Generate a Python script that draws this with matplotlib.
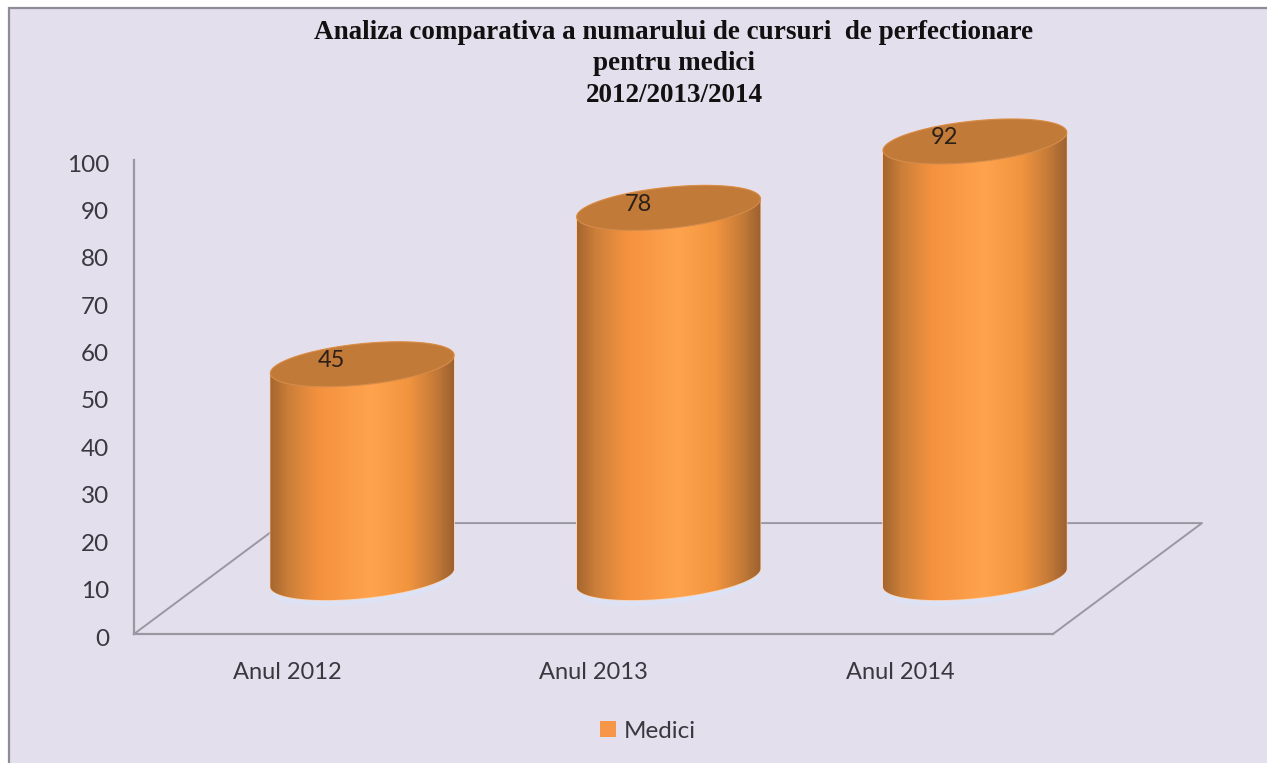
import numpy as np
import matplotlib
matplotlib.use('Agg')
import matplotlib.pyplot as plt
from matplotlib.colors import LinearSegmentedColormap
from matplotlib.patches import Patch, Polygon, Rectangle
from matplotlib.transforms import ScaledTranslation

categories = ['Anul 2012', 'Anul 2013', 'Anul 2014']
medici = [45, 78, 92]
y_ticks = [0, 10, 20, 30, 40, 50, 60, 70, 80, 90, 100]
title = 'Analiza comparativa a numarului de cursuri  de perfectionare\npentru medici\n2012/2013/2014'

W, H = 1267, 763
bg = '#E4DFEC'
line_col = '#9A97A3'
text_col = '#38383E'

fig = plt.figure(figsize=(W/100, H/100), dpi=100, facecolor='white')
fig.add_artist(Rectangle((9/W, -0.02), 1.02, 1.02 - 8/H, transform=fig.transFigure,
                         facecolor=bg, edgecolor='#8F8C98', lw=1.6, zorder=-1))

ax = fig.add_axes([134/W, 1 - 634/H, 919/W, 474/H])
ax.patch.set_visible(False)
for s in ['top', 'right']:
    ax.spines[s].set_visible(False)
for s in ['left', 'bottom']:
    ax.spines[s].set_color(line_col)
    ax.spines[s].set_linewidth(1.6)

# depth of the fake 3D floor, in data units
depth_x = 149 / (919 / 3)
depth_y = 23.4
ax.plot([-0.5, -0.5 + depth_x, 2.5 + depth_x, 2.5], [0, depth_y, depth_y, 0],
        color=line_col, lw=1.4, clip_on=False, zorder=1)

# cylinders sit in the middle of the floor
off_x = 0.245
off_y = 11.9
half_w = 0.30
ell_h = 4.35
ell_s = 1.9
body_cmap = LinearSegmentedColormap.from_list('body', [
    (0.0, '#A5662F'), (0.10, '#CB7F39'), (0.26, '#F3913F'), (0.55, '#FFA34E'),
    (0.75, '#F3953F'), (0.90, '#C57B38'), (1.0, '#9C6130')])


def ellipse_points(cx, cy, t):
    return np.column_stack([cx + half_w*np.cos(t), cy + ell_h*np.sin(t) + ell_s*np.cos(t)])


def draw_cylinder(i, value):
    cx = i + off_x
    bottom = off_y
    top = value + off_y
    # pale glow under the cylinder
    glow = ellipse_points(cx, bottom - 1.3, np.linspace(0, 2*np.pi, 160))
    ax.add_patch(Polygon(glow, closed=True, facecolor='#DDE2F5', edgecolor='none',
                         clip_on=False, zorder=2))
    lower = ellipse_points(cx, bottom, np.linspace(np.pi, 2*np.pi, 80))
    upper = ellipse_points(cx, top, np.linspace(0, np.pi, 80))
    outline = Polygon(np.vstack([lower, upper]), closed=True, facecolor='none',
                      edgecolor='#FBD3B0', lw=1.0, clip_on=False, zorder=3)
    ax.add_patch(outline)
    grad = np.linspace(0, 1, 256).reshape(1, -1)
    im = ax.imshow(grad, cmap=body_cmap, aspect='auto', zorder=3.1,
                   extent=[cx - half_w, cx + half_w, bottom - 8, top + 8])
    im.set_clip_path(Polygon(np.vstack([lower, upper]), closed=True, transform=ax.transData))
    im.set_clip_box(fig.bbox)
    cap = ellipse_points(cx, top, np.linspace(0, 2*np.pi, 160))
    ax.add_patch(Polygon(cap, closed=True, facecolor='#C27A38', edgecolor='#D58C4C',
                         lw=0.8, clip_on=False, zorder=3.2))
    ax.text(cx - 0.1, top + 0.8, str(value), ha='center', va='center', fontsize=17,
            family='Lato', color='#2A2018', zorder=4)


for i, v in enumerate(medici):
    draw_cylinder(i, v)

ax.set_xlim(-0.5, 2.5)
ax.set_ylim(0, 100)
ax.set_xticks(range(len(categories)))
ax.set_xticklabels(categories, family='Lato', fontsize=17, color=text_col)
ax.set_yticks(y_ticks)
ax.set_yticklabels([str(t) for t in y_ticks], family='Lato', fontsize=17.5, color=text_col)
ax.tick_params(axis='both', length=0)
ax.tick_params(axis='x', pad=20.5)
ax.tick_params(axis='y', pad=18)
for lab in ax.get_yticklabels():
    lab.set_transform(lab.get_transform() + ScaledTranslation(0, -3/100, fig.dpi_scale_trans))

fig.text(674/W, 1 - 20/H, title, ha='center', va='top', family='Liberation Serif',
         fontweight='bold', fontsize=19.5, color='#111111', linespacing=1.33)

fig.legend(handles=[Patch(facecolor='#F79646', edgecolor='none', label='Medici')],
           loc='center', bbox_to_anchor=(648/W, 1 - 731/H), frameon=False,
           prop={'family': 'Lato', 'size': 17.5}, labelcolor=text_col,
           handlelength=0.65, handleheight=0.65, handletextpad=0.35)

fig.savefig('out.png', dpi=100, facecolor='white')
